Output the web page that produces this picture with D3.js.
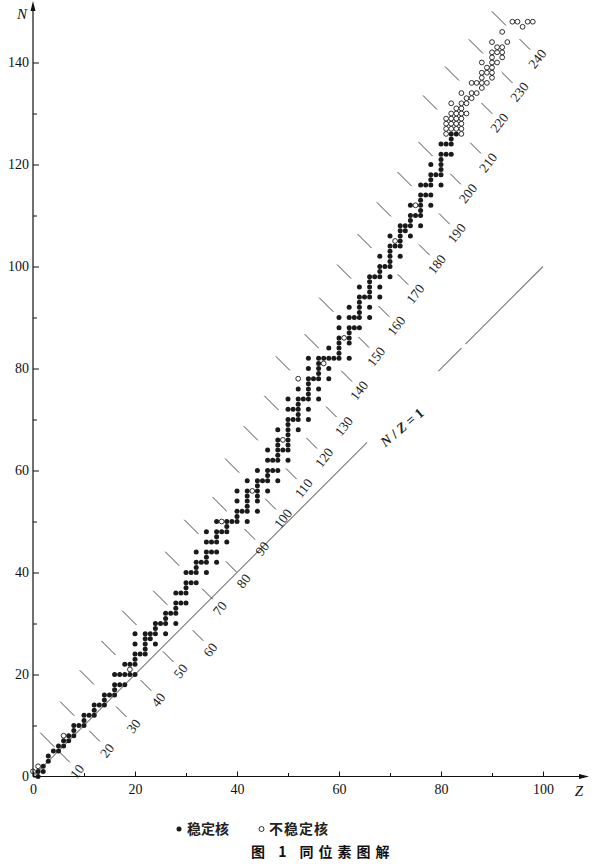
<!DOCTYPE html>
<html><head><meta charset="utf-8">
<script src="https://cdn.jsdelivr.net/npm/d3@7"></script>
<style>body{margin:0;background:#fff}</style>
</head><body><svg id="c" width="600" height="864"></svg>
<script>
// ---- data ----
const xTicks = [0,10,20,30,40,50,60,70,80,90,100];
const xLabels = [0,20,40,60,80,100];
const yTicks = [0,10,20,30,40,50,60,70,80,90,100,110,120,130,140];
const yLabels = [0,20,40,60,80,100,120,140];

// stable nuclides: [Z, [N ...]]
const stableLight = [[1,[0,1]],[2,[1,2]],[3,[3,4]],[4,[5]],[5,[5,6]],[6,[6,7]],[7,[7,8]],[8,[8,9,10]],[9,[10]],[10,[10,11,12]],[11,[12]],[12,[12,13,14]],[13,[14]],[14,[14,15,16]],[15,[16]],[16,[16,17,18,20]],[17,[18,20]],[18,[18,20,22]],[19,[20,22]],[20,[20,22,23,24,26,28]],[21,[24]],[22,[24,25,26,27,28]],[23,[27,28]],[24,[26,28,29,30]],[25,[30]],[26,[28,30,31,32]],[27,[32]],[28,[30,32,33,34,36]],[29,[34,36]],[30,[34,36,37,38,40]]];
const stableMid = [[31,[38,40]],[32,[38,40,41,42,44]],[33,[42]],[34,[40,42,43,44,46,48]],[35,[44,46]],[36,[42,44,46,47,48,50]],[37,[48]],[38,[46,48,49,50]],[39,[50]],[40,[50,51,52,54,56]],[41,[52]],[42,[50,52,53,54,55,56,58]],[44,[52,54,55,56,57,58,60]],[45,[58]],[46,[56,58,59,60,62,64]],[47,[60,62]],[48,[58,60,62,63,64,65,66,68]],[49,[64]],[50,[62,64,65,66,67,68,69,70,72,74]],[51,[70,72]],[52,[68,70,71,72,73,74,76]],[53,[74]],[54,[70,72,74,75,76,77,78,80,82]],[55,[78]],[56,[74,76,78,79,80,81,82]],[57,[82]],[58,[78,80,82,84]],[59,[82]],[60,[82,83,84,85,86,88,90]]];
const stableHeavy = [[62,[82,85,86,87,88,90,92]],[63,[88,90]],[64,[88,90,91,92,93,94,96]],[65,[94]],[66,[90,92,94,95,96,97,98]],[67,[98]],[68,[94,96,98,99,100,102]],[69,[100]],[70,[98,100,101,102,103,104,106]],[71,[104]],[72,[102,104,105,106,107,108]],[73,[107,108]],[74,[106,108,109,110,112]],[75,[110]],[76,[108,110,111,112,113,114,116]],[77,[114,116]],[78,[112,114,116,117,118,120]],[79,[118]],[80,[116,118,119,120,121,122,124]],[81,[122,124]],[82,[122,124,125,126]],[83,[126]]];

// unstable nuclides: [Z, [N ...]]
const unstableLight = [[0,[1]],[1,[2]],[6,[8]],[19,[21]],[37,[50]],[43,[56]],[49,[66]],[52,[78]],[57,[81]],[61,[86]],[71,[105]],[75,[112]]];
const unstableHeavy = [[81,[126,127,128,129]],[82,[127,128,129,130,132]],[83,[127,128,129,130,131]],[84,[126,127,128,129,130,131,132,134]],[85,[130,132,133]],[86,[133,134,136]],[87,[134,136]],[88,[135,136,137,138,140]],[89,[136,138,139]],[90,[137,138,139,140,141,142,144]],[91,[140,142,143]],[92,[141,142,143,146]],[93,[144]],[94,[148]],[95,[148]],[96,[147]],[97,[148]],[98,[148]]];

// isobars A = Z + N, with N-Z of the lower (labelled) and upper marks
const isobarA   = [10,20,30,40,50,60,70,80,90,100,110,120,130,140,150,160,170,180,190,200,210,220,230,240];
const isobarLow = [-2.4,-4.2,-4.6,-4.3,-3.0,-4.7,1.6,2.3,5.0,6.8,8.7,10.7,13.0,17.0,20.3,22.4,24.9,26.5,28.7,34.3,36.4,42.0,44.1,47.1];
const isobarUp  = [4.4,6.6,8.9,10.4,12.2,10.1,15.4,17.9,16.8,21.9,24.6,26.5,32.0,30.7,35.0,38.0,40.0,42.4,44.3,46.1,54.3,55.7,56.3,57.3];

// N/Z = 1 line pieces (Z from, Z to)
const diagPieces = [[0,65.5],[79.5,84],[84.8,100]];

// ---- drawing ----
const svg = d3.select("#c");
const x = d3.scaleLinear().domain([0,100]).range([33,543]);
const y = d3.scaleLinear().domain([0,150]).range([776.5,11.5]);
const serif = "'Liberation Serif','DejaVu Serif',serif";

const flat = arr => arr.flatMap(([z,ns]) => ns.map(n => [z,n]));
const stablePts = flat(stableLight).concat(flat(stableMid), flat(stableHeavy));
const unstablePts = flat(unstableLight).concat(flat(unstableHeavy));

// N/Z = 1 line
svg.append("g").selectAll("line").data(diagPieces).join("line")
  .attr("x1", d => x(d[0])).attr("y1", d => y(d[0]))
  .attr("x2", d => x(d[1])).attr("y2", d => y(d[1]))
  .attr("stroke", "#777").attr("stroke-width", 1.1);

const nz = svg.append("text")
  .attr("transform", "translate(405,431) rotate(-40)")
  .attr("text-anchor", "middle").attr("font-family", serif)
  .attr("font-size", 14).attr("font-weight", "bold").attr("fill", "#222");
nz.append("tspan").attr("font-style","italic").text("N");
nz.append("tspan").text(" / ");
nz.append("tspan").attr("font-style","italic").text("Z");
nz.append("tspan").text(" = 1");

// isobar marks
const iso = isobarA.map((A,i) => ({A, lo: isobarLow[i], up: isobarUp[i]}));
const s2 = Math.SQRT1_2;
function seg(A, d, L) {
  const cx = x((A - d) / 2), cy = y((A + d) / 2), h = L / 2 * s2;
  return [cx - h, cy - h, cx + h, cy + h];
}
const gi = svg.append("g").attr("stroke", "#333").attr("stroke-width", 0.9);
iso.forEach(o => {
  const u = seg(o.A, o.up, 20);
  gi.append("line").attr("x1",u[0]).attr("y1",u[1]).attr("x2",u[2]).attr("y2",u[3]);
  const l = seg(o.A, o.lo, 15);
  gi.append("line").attr("x1",l[0]).attr("y1",l[1]).attr("x2",l[2]).attr("y2",l[3]);
  svg.append("text")
    .attr("transform", `translate(${l[2] + 7},${l[3] + 9}) rotate(-52)`)
    .attr("text-anchor", "middle").attr("dy", "0.35em")
    .attr("font-family", serif).attr("font-size", 13.5).attr("fill", "#222")
    .text(o.A);
});

// points
svg.append("g").selectAll("circle").data(stablePts).join("circle")
  .attr("cx", d => x(d[0])).attr("cy", d => y(d[1])).attr("r", 2.5).attr("fill", "#1a1a1a");
svg.append("g").selectAll("circle").data(unstablePts).join("circle")
  .attr("cx", d => x(d[0])).attr("cy", d => y(d[1])).attr("r", 2.4)
  .attr("fill", "#fff").attr("stroke", "#1a1a1a").attr("stroke-width", 0.9);

// axes
const xAxis = d3.axisBottom(x).tickValues(xTicks).tickSize(-5).tickPadding(8)
  .tickFormat(d => xLabels.includes(d) ? d : "");
const gx = svg.append("g").attr("transform", `translate(0,${y(0)})`).call(xAxis);
gx.select(".domain").remove();
gx.selectAll(".tick line").attr("y2", d => d % 20 === 0 ? -5 : -3.5).attr("stroke","#111");
gx.selectAll("text").attr("font-family", serif).attr("font-size", 14).attr("fill", "#111");

const yAxis = d3.axisLeft(y).tickValues(yTicks).tickSize(-5).tickPadding(4)
  .tickFormat(d => yLabels.includes(d) ? d : "");
const gy = svg.append("g").attr("transform", `translate(${x(0)},0)`).call(yAxis);
gy.select(".domain").remove();
gy.selectAll(".tick line").attr("x2", d => d % 20 === 0 ? 6 : 4).attr("stroke","#111");
gy.selectAll("text").attr("font-family", serif).attr("font-size", 14).attr("fill", "#111");

// axis lines with arrows
svg.append("line").attr("x1", x(0)).attr("y1", y(0)).attr("x2", 584).attr("y2", y(0))
  .attr("stroke", "#111").attr("stroke-width", 1.2);
svg.append("path").attr("d", `M589,${y(0)} L579,${y(0)-2.5} L579,${y(0)+2.5} Z`).attr("fill", "#111");
svg.append("line").attr("x1", x(0)).attr("y1", y(0)).attr("x2", x(0)).attr("y2", 6)
  .attr("stroke", "#111").attr("stroke-width", 1.2);
svg.append("path").attr("d", `M${x(0)},1 L${x(0)-2.5},11 L${x(0)+2.5},11 Z`).attr("fill", "#111");

svg.append("text").attr("x", 22).attr("y", 19).attr("text-anchor","middle")
  .attr("font-family", serif).attr("font-style","italic").attr("font-size", 15).attr("fill","#111").text("N");
svg.append("text").attr("x", 579).attr("y", 796).attr("text-anchor","middle")
  .attr("font-family", serif).attr("font-style","italic").attr("font-size", 15).attr("fill","#111").text("Z");

// legend
const cjk = "'Noto Sans CJK SC','Noto Sans CJK JP',sans-serif";
svg.append("circle").attr("cx", 179).attr("cy", 829).attr("r", 2.5).attr("fill", "#1a1a1a");
svg.append("text").attr("x", 187).attr("y", 834).attr("font-family", cjk).attr("font-size", 14)
  .attr("font-weight", "bold").attr("fill", "#222").text("稳定核");
svg.append("circle").attr("cx", 261.5).attr("cy", 829).attr("r", 2.5).attr("fill", "#fff")
  .attr("stroke", "#1a1a1a").attr("stroke-width", 0.9);
svg.append("text").attr("x", 269).attr("y", 834).attr("font-family", cjk).attr("font-size", 14)
  .attr("font-weight", "bold").attr("letter-spacing", 1).attr("fill", "#222").text("不稳定核");

// caption
svg.append("text").attr("x", 251).attr("y", 857).attr("font-family", cjk).attr("font-size", 14)
  .attr("font-weight", "bold").attr("letter-spacing", 5).attr("fill", "#111")
  .text("图 1 同位素图解");
</script></body></html>
